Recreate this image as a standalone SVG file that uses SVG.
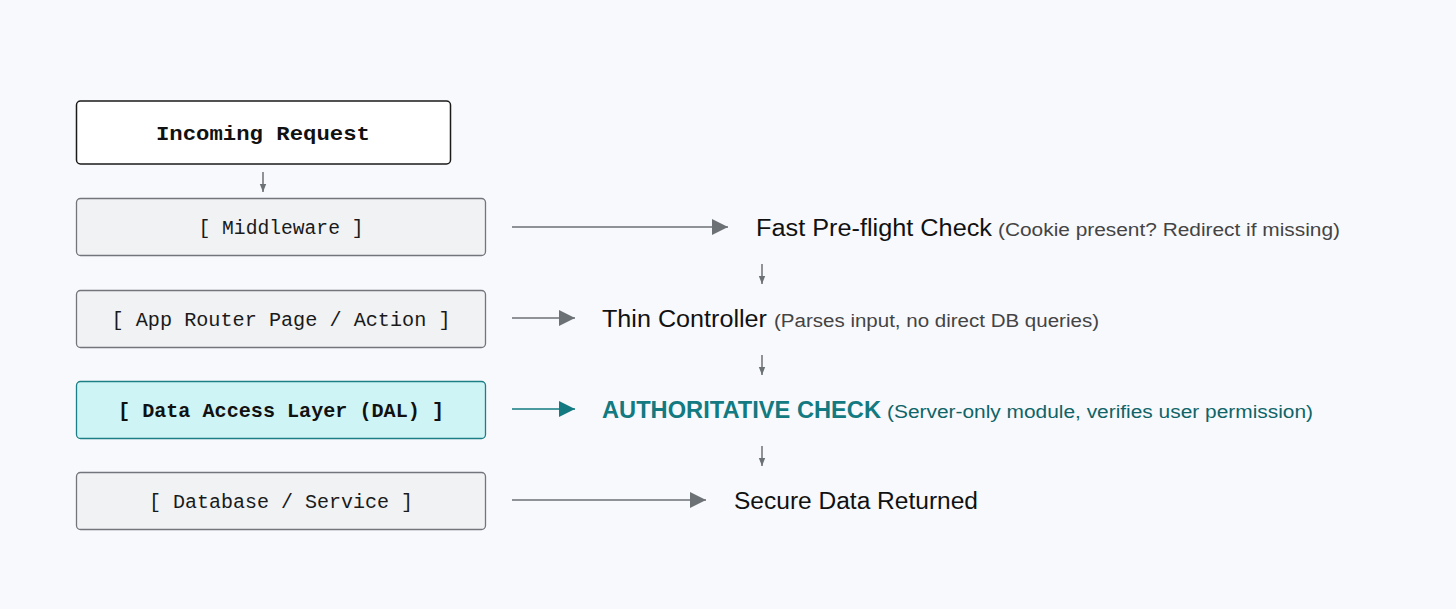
<svg xmlns="http://www.w3.org/2000/svg" width="1456" height="609" viewBox="0 0 1456 609">
<style>
.box{fill:#f0f2f4;stroke:#72767c;stroke-width:1.3}
.mono{font-family:"Liberation Mono","DejaVu Sans Mono",monospace;font-size:20px;fill:#1a1a1a;text-anchor:middle}
.monob{font-family:"Liberation Mono","DejaVu Sans Mono",monospace;font-size:21px;font-weight:bold;fill:#111;text-anchor:middle}
.main{font-family:"Liberation Sans","Noto Sans",sans-serif;font-size:23px;fill:#111}
.sub{font-family:"Liberation Sans","Noto Sans",sans-serif;font-size:18px;fill:#444}
.ln{stroke:#6c7176;stroke-width:1.5;fill:none}
.dn{stroke:#6c7176;stroke-width:1.5;fill:none}
</style>
<defs>
<marker id="ah" viewBox="0 0 10 10" refX="10" refY="5" markerWidth="16" markerHeight="16" markerUnits="userSpaceOnUse" orient="auto"><path d="M0,0 L10,5 L0,10 z" fill="#6c7176"/></marker>
<marker id="aht" viewBox="0 0 10 10" refX="10" refY="5" markerWidth="16" markerHeight="16" markerUnits="userSpaceOnUse" orient="auto"><path d="M0,0 L10,5 L0,10 z" fill="#127a80"/></marker>
<marker id="ahs" viewBox="0 0 10 10" refX="10" refY="5" markerWidth="8" markerHeight="8" markerUnits="userSpaceOnUse" orient="auto"><path d="M0,1 L10,5 L0,9 z" fill="#6c7176"/></marker>
</defs>
<rect width="1456" height="609" fill="#f8f9fc"/>
<g id="incoming">
<rect x="76.5" y="101" width="374" height="63" rx="4" fill="#ffffff" stroke="#1a1a1a" stroke-width="1.5"/>
<text class="monob" x="263" y="140" textLength="214" lengthAdjust="spacingAndGlyphs">Incoming Request</text>
</g>
<g id="middleware">
<rect class="box" x="76.5" y="198.5" width="409" height="57" rx="4"/>
<text class="mono" x="281" y="234" textLength="165" lengthAdjust="spacingAndGlyphs">[ Middleware ]</text>
</g>
<g id="approuter">
<rect class="box" x="76.5" y="290.5" width="409" height="57" rx="4"/>
<text class="mono" x="281" y="326" textLength="339" lengthAdjust="spacingAndGlyphs">[ App Router Page / Action ]</text>
</g>
<g id="dal">
<rect x="76.5" y="381.5" width="409" height="57" rx="4" fill="#cff4f5" stroke="#1d7f86" stroke-width="1.3"/>
<text class="monob" x="281" y="417" textLength="326" lengthAdjust="spacingAndGlyphs">[ Data Access Layer (DAL) ]</text>
</g>
<g id="database">
<rect class="box" x="76.5" y="472.5" width="409" height="57" rx="4"/>
<text class="mono" x="281" y="508" textLength="264" lengthAdjust="spacingAndGlyphs">[ Database / Service ]</text>
</g>
<g id="preflight">
<text x="756" y="236"><tspan class="main" textLength="236" lengthAdjust="spacingAndGlyphs">Fast Pre-flight Check</tspan><tspan class="sub" x="998" textLength="342" lengthAdjust="spacingAndGlyphs">(Cookie present? Redirect if missing)</tspan></text>
</g>
<g id="thin">
<text x="602" y="327"><tspan class="main" textLength="165" lengthAdjust="spacingAndGlyphs">Thin Controller</tspan><tspan class="sub" x="774" textLength="325" lengthAdjust="spacingAndGlyphs">(Parses input, no direct DB queries)</tspan></text>
</g>
<g id="auth">
<text x="602" y="418"><tspan class="main" style="font-weight:bold;fill:#127a80" textLength="279" lengthAdjust="spacingAndGlyphs">AUTHORITATIVE CHECK</tspan><tspan class="sub" style="fill:#0e6468" x="887" textLength="426" lengthAdjust="spacingAndGlyphs">(Server-only module, verifies user permission)</tspan></text>
</g>
<g id="secure">
<text class="main" x="734" y="509" textLength="244" lengthAdjust="spacingAndGlyphs">Secure Data Returned</text>
</g>
<g id="connectors">
<line class="dn" x1="263" y1="172" x2="263" y2="192" marker-end="url(#ahs)"/>
<line class="ln" x1="512" y1="227" x2="728" y2="227" marker-end="url(#ah)"/>
<line class="ln" x1="512" y1="318" x2="575" y2="318" marker-end="url(#ah)"/>
<line x1="512" y1="409" x2="575" y2="409" stroke="#127a80" stroke-width="1.5" marker-end="url(#aht)"/>
<line class="ln" x1="512" y1="500" x2="706" y2="500" marker-end="url(#ah)"/>
<line class="dn" x1="762" y1="264" x2="762" y2="284" marker-end="url(#ahs)"/>
<line class="dn" x1="762" y1="355" x2="762" y2="375" marker-end="url(#ahs)"/>
<line class="dn" x1="762" y1="446" x2="762" y2="466" marker-end="url(#ahs)"/>
</g>
</svg>
